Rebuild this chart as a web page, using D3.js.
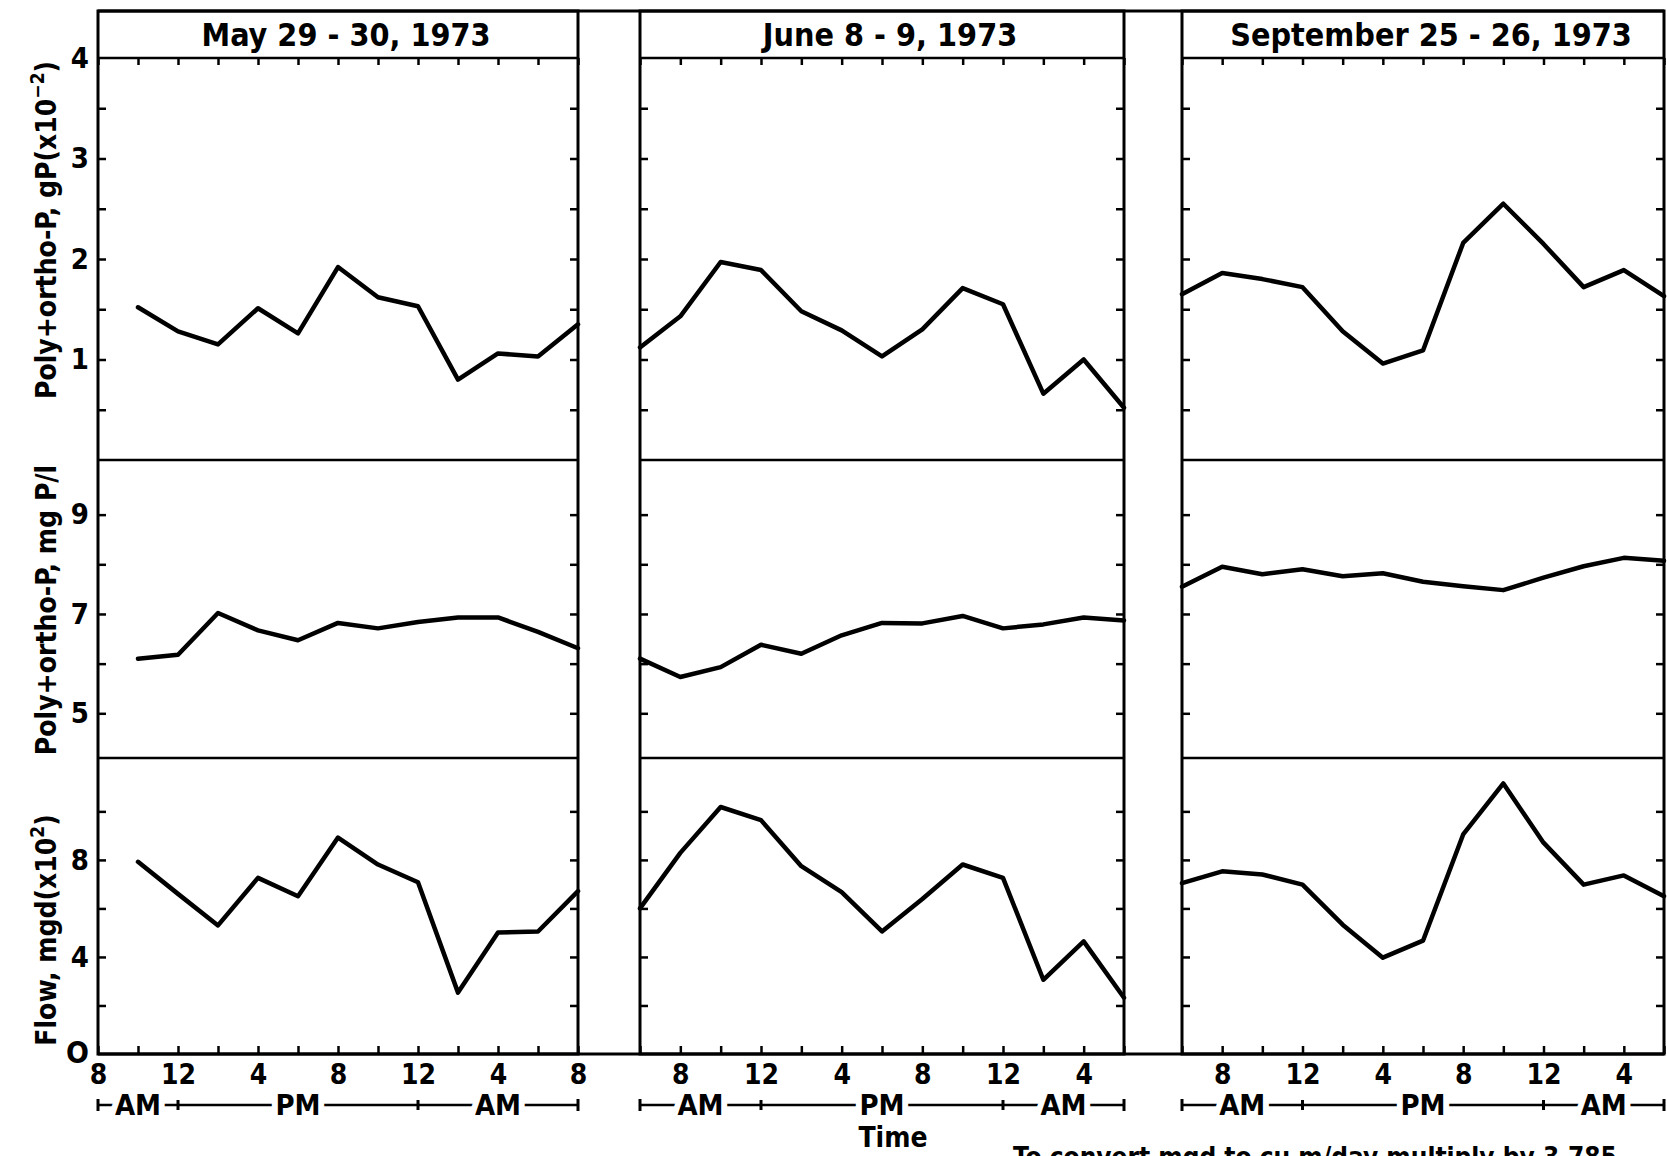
<!DOCTYPE html>
<html>
<head>
<meta charset="utf-8">
<script src="https://cdn.jsdelivr.net/npm/d3@7/dist/d3.min.js"></script>
<style>
  body { margin: 0; background: #fff; }
  svg { display: block; }
  text { font-family: "DejaVu Sans Condensed", "DejaVu Sans", sans-serif; font-weight: bold; fill: #000; }
  .axis path { display: none; }
  .axis line { stroke: #000; stroke-width: 2.5; }
  .frame { fill: none; stroke: #000; stroke-width: 3; }
  .series { fill: none; stroke: #000; stroke-width: 4.5; stroke-linejoin: round; stroke-linecap: round; }
</style>
</head>
<body>
<div class="chart-container"></div>
<script>
// ---- data ----
// hours counted from midnight of the first day (8 = 8 AM, 24 = midnight, 32 = 8 AM next day)
const titles = ['May 29 - 30, 1973', 'June 8 - 9, 1973', 'September 25 - 26, 1973'];
const hourRange = [[8, 32], [6, 30], [6, 30]];

const mayHours  = [10, 12, 14, 16, 18, 20, 22, 24, 26, 28, 30, 32];
const juneHours = [6, 8, 10, 12, 14, 16, 18, 20, 22, 24, 26, 28, 30];
const septHours = [6, 8, 10, 12, 14, 16, 18, 20, 22, 24, 26, 28, 30];

// Poly+ortho-P, gP (x10^-2)
const mayLoad  = [1.52, 1.28, 1.15, 1.51, 1.26, 1.92, 1.62, 1.53, 0.80, 1.06, 1.03, 1.35];
const juneLoad = [1.12, 1.43, 1.97, 1.89, 1.48, 1.29, 1.03, 1.30, 1.71, 1.55, 0.66, 1.00, 0.52];
const septLoad = [1.65, 1.86, 1.80, 1.72, 1.28, 0.96, 1.09, 2.16, 2.55, 2.15, 1.72, 1.89, 1.63];

// Poly+ortho-P, mg P/l
const mayConc  = [6.10, 6.18, 7.02, 6.67, 6.47, 6.82, 6.71, 6.84, 6.93, 6.93, 6.64, 6.31];
const juneConc = [6.10, 5.73, 5.93, 6.38, 6.20, 6.57, 6.82, 6.81, 6.96, 6.71, 6.79, 6.93, 6.87];
const septConc = [7.55, 7.95, 7.80, 7.90, 7.76, 7.82, 7.65, 7.56, 7.48, 7.73, 7.96, 8.13, 8.07];

// Flow, mgd (x10^2)
const mayFlow  = [7.92, 6.60, 5.30, 7.26, 6.50, 8.92, 7.81, 7.08, 2.53, 5.01, 5.05, 6.71];
const juneFlow = [6.00, 8.29, 10.18, 9.64, 7.74, 6.67, 5.05, 6.39, 7.81, 7.26, 3.06, 4.64, 2.32];
const septFlow = [7.04, 7.53, 7.40, 6.98, 5.33, 3.97, 4.67, 9.05, 11.15, 8.71, 6.98, 7.36, 6.50];

const loadTicks = [1, 2, 3, 4],  loadMinor = [0.5, 1.5, 2.5, 3.5];
const concTicks = [5, 7, 9],     concMinor = [6, 8];
const flowTicks = [0, 4, 8],     flowMinor = [2, 6, 10];

const periods = [
  [{label: 'AM', from: 8, to: 12}, {label: 'PM', from: 12, to: 24}, {label: 'AM', from: 24, to: 32}],
  [{label: 'AM', from: 6, to: 12}, {label: 'PM', from: 12, to: 24}, {label: 'AM', from: 24, to: 30}],
  [{label: 'AM', from: 6, to: 12}, {label: 'PM', from: 12, to: 24}, {label: 'AM', from: 24, to: 30}]
];

const hoursByPanel = [mayHours, juneHours, septHours];
const rows = [
  {name: 'load', values: [mayLoad, juneLoad, septLoad], domain: [0, 4], top: 58, bottom: 460,
   ticks: loadTicks, minor: loadMinor},
  {name: 'conc', values: [mayConc, juneConc, septConc], domain: [4.1, 10.1], top: 460, bottom: 758,
   ticks: concTicks, minor: concMinor},
  {name: 'flow', values: [mayFlow, juneFlow, septFlow], domain: [0, 12.2], top: 758, bottom: 1054,
   ticks: flowTicks, minor: flowMinor}
];

// ---- layout ----
const svg_width = 1667, svg_height = 1156;
const frameTop = 11, titleBottom = 58, axisY = 1054;
const panels = [[98, 578], [640, 1124], [1182, 1664]];

const svg = d3.select('.chart-container').append('svg')
  .attr('width', svg_width).attr('height', svg_height);

const fmtHour = h => String(((h - 1) % 12) + 1);

// long top and bottom rules run across the gaps
svg.append('line').attr('x1', panels[0][0]).attr('x2', panels[2][1])
  .attr('y1', frameTop).attr('y2', frameTop).attr('stroke', '#000').attr('stroke-width', 3);
svg.append('line').attr('x1', panels[0][0]).attr('x2', panels[2][1])
  .attr('y1', axisY).attr('y2', axisY).attr('stroke', '#000').attr('stroke-width', 3);

panels.forEach((p, i) => {
  const [x0, x1] = p;
  const xScale = d3.scaleLinear().domain(hourRange[i]).range([x0, x1]);
  const g = svg.append('g').attr('class', 'panel');

  // frame
  g.append('rect').attr('class', 'frame')
    .attr('x', x0).attr('y', frameTop).attr('width', x1 - x0).attr('height', axisY - frameTop);
  [titleBottom, rows[0].bottom, rows[1].bottom].forEach(y => {
    g.append('line').attr('x1', x0).attr('x2', x1).attr('y1', y).attr('y2', y)
      .attr('stroke', '#000').attr('stroke-width', 2.5);
  });

  // title
  g.append('text').attr('x', (x0 + x1) / 2 + 8).attr('y', 46)
    .attr('text-anchor', 'middle').style('font-size', '32px').text(titles[i]);

  // x ticks every 2 h
  const xTicks = d3.range(hourRange[i][0], hourRange[i][1] + 1, 2);
  g.append('g').attr('class', 'axis')
    .attr('transform', `translate(0,${titleBottom})`)
    .call(d3.axisTop(xScale).tickValues(xTicks).tickSizeInner(-7).tickSizeOuter(0).tickFormat(''));
  const xAxisDraw = g.append('g').attr('class', 'axis')
    .attr('transform', `translate(0,${axisY})`)
    .call(d3.axisBottom(xScale).tickValues(xTicks).tickSizeInner(-8).tickSizeOuter(0)
      .tickPadding(9).tickFormat(h => h % 4 === 0 ? fmtHour(h) : ''));
  xAxisDraw.selectAll('text').style('font-size', '28px').attr('dy', '0.75em');

  // rows
  rows.forEach(r => {
    const yScale = d3.scaleLinear().domain(r.domain).range([r.bottom, r.top]);
    const allTicks = r.ticks.concat(r.minor).filter(v => yScale(v) > r.top + 3 && yScale(v) < r.bottom - 1);
    const leftAxis = d3.axisLeft(yScale).tickValues(allTicks).tickSizeInner(-8).tickSizeOuter(0)
      .tickPadding(9).tickFormat(v => (i === 0 && r.ticks.includes(v)) ? String(v) : '');
    const la = g.append('g').attr('class', 'axis').attr('transform', `translate(${x0},0)`).call(leftAxis);
    la.selectAll('text').style('font-size', '29px');
    if (i === 0 && r.name === 'load') {
      // top label "4" sits on the frame line
      g.append('text').attr('x', x0 - 9).attr('y', yScale(4)).attr('dy', '0.35em')
        .attr('text-anchor', 'end').style('font-size', '29px').text('4');
    }
    if (i === 0 && r.name === 'flow') {
      g.append('text').attr('x', x0 - 9).attr('y', yScale(0)).attr('dy', '0.3em')
        .attr('text-anchor', 'end').style('font-size', '30px').text('O');
    }
    g.append('g').attr('class', 'axis').attr('transform', `translate(${x1},0)`)
      .call(d3.axisRight(yScale).tickValues(allTicks).tickSizeInner(-8).tickSizeOuter(0).tickFormat(''));

    const line = d3.line().x((d, k) => xScale(hoursByPanel[i][k])).y(d => yScale(d));
    g.append('path').attr('class', 'series').datum(r.values[i]).attr('d', line);
  });

  // AM / PM bracket row
  const rowY = 1105;
  const [h0, h1] = hourRange[i];
  g.append('line').attr('x1', xScale(h0)).attr('x2', xScale(h1)).attr('y1', rowY).attr('y2', rowY)
    .attr('stroke', '#000').attr('stroke-width', 2.5);
  [h0, h1].forEach(h => {
    g.append('line').attr('x1', xScale(h)).attr('x2', xScale(h)).attr('y1', rowY - 6).attr('y2', rowY + 6)
      .attr('stroke', '#000').attr('stroke-width', 3);
  });
  [12, 24].forEach(h => {
    g.append('line').attr('x1', xScale(h)).attr('x2', xScale(h)).attr('y1', rowY - 5).attr('y2', rowY + 5)
      .attr('stroke', '#000').attr('stroke-width', 3);
  });
  periods[i].forEach(pd => {
    g.append('text').attr('x', xScale((pd.from + pd.to) / 2)).attr('y', 1115)
      .attr('text-anchor', 'middle').style('font-size', '29px')
      .style('stroke', '#fff').style('stroke-width', 12).style('paint-order', 'stroke')
      .text(pd.label);
  });
});

// y-axis titles
function yTitle(cy, main, sup, after) {
  const t = svg.append('text').attr('transform', `translate(46,${cy}) rotate(-90)`)
    .attr('text-anchor', 'middle').attr('dy', '0.36em').style('font-size', '28px');
  t.append('tspan').text(main);
  if (sup) {
    t.append('tspan').text(sup).attr('dy', -12).style('font-size', '19px');
    t.append('tspan').text(after).attr('dy', 12);
  }
}
yTitle(230, 'Poly+ortho-P, gP(x10', '\u22122', ')');
yTitle(610, 'Poly+ortho-P, mg P/l');
yTitle(930, 'Flow, mgd(x10', '2', ')');

// bottom texts
svg.append('text').attr('x', 893).attr('y', 1147).attr('text-anchor', 'middle')
  .style('font-size', '28px').text('Time');
svg.append('text').attr('x', 1013).attr('y', 1166)
  .style('font-size', '26px').text('To convert mgd to cu m/day multiply by 3,785');
</script>
</body>
</html>
